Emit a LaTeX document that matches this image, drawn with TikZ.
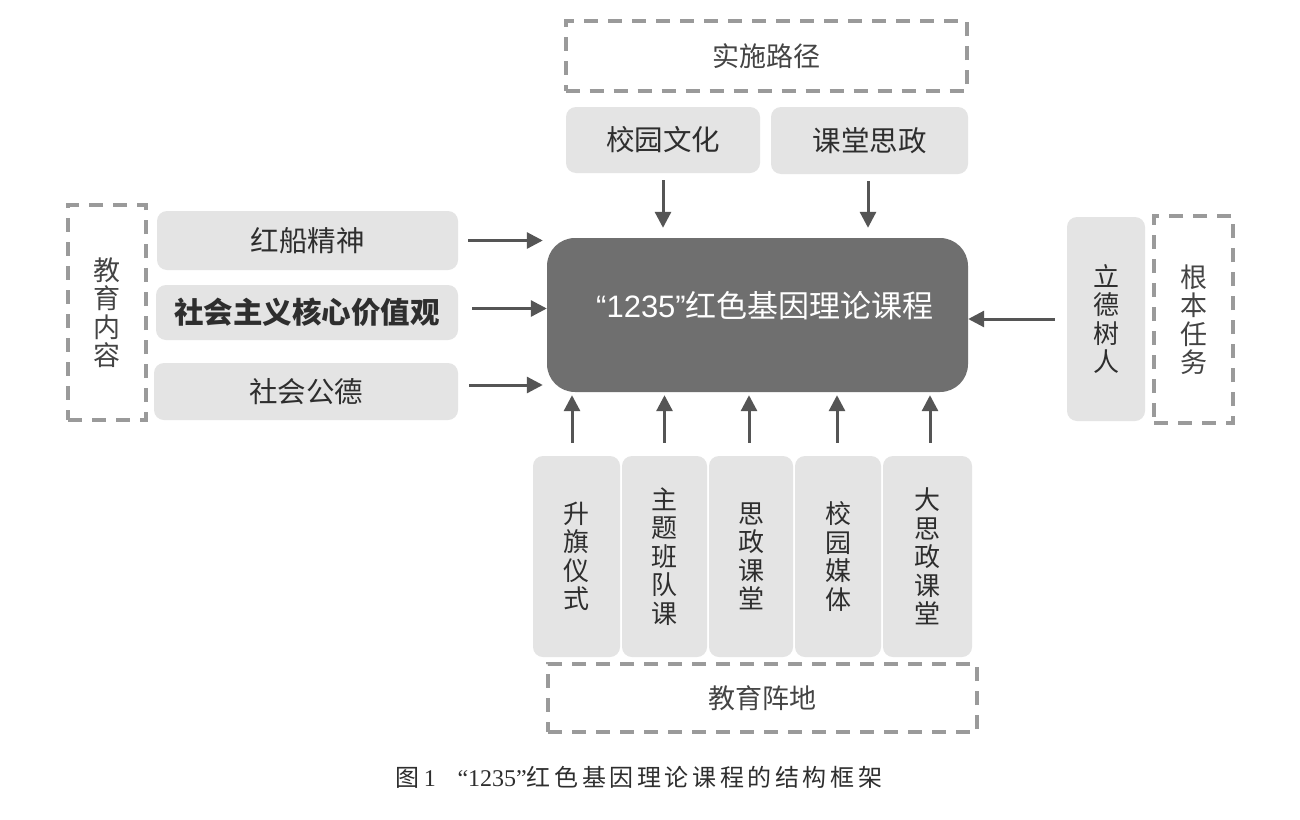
\documentclass[tikz,border=0pt]{standalone}
\usepackage{fontspec}
\setmainfont{Noto Sans CJK SC}
\newfontfamily\lsans{Liberation Sans}
\newfontfamily\lserif{Liberation Serif}
\usetikzlibrary{arrows.meta}
\definecolor{boxgray}{HTML}{E4E4E4}
\definecolor{coregray}{HTML}{6F6F6F}
\definecolor{dashgray}{HTML}{9A9A9A}
\definecolor{arrgray}{HTML}{555555}
\definecolor{txt}{HTML}{2E2E2E}
\definecolor{dtxt}{HTML}{444444}
\tikzset{
  lbox/.style={fill=boxgray, rounded corners=10pt, text=txt, inner sep=0pt,
    font=\fontsize{28.5}{29}\selectfont, align=center},
  vbox/.style={lbox, font=\fontsize{26}{28.5}\selectfont},
  dbox/.style={draw=dashgray, line width=4pt, dash pattern=on 14pt off 10pt,
    inner sep=0pt, text=dtxt, font=\fontsize{27}{28.5}\selectfont, align=center},
  corebox/.style={fill=coregray, rounded corners=28pt, inner sep=0pt},
  arr/.style={draw=arrgray, line width=3pt, -{Triangle[length=16pt,width=16pt]}},
}
\begin{document}
\begin{tikzpicture}[x=1pt,y=-1pt]
\useasboundingbox (0,0) rectangle (1300,819);
\fill[white] (0,0) rectangle (1300,819);

% top
\node[dbox, minimum width=401pt, minimum height=70pt] (path) at (766,56) {实施路径};
\node[lbox, minimum width=194pt, minimum height=66pt] (campus) at (663,140) {校园文化};
\node[lbox, minimum width=197pt, minimum height=67pt] (classr) at (869.5,140.5) {课堂思政};

% core
\node[corebox, minimum width=421pt, minimum height=154pt] (core) at (757.5,315) {};
\node[text=white, font=\fontsize{31}{32}\selectfont, inner sep=0pt] (coretext) at (765,306) {{\lsans “1235”}红色基因理论课程};

% left
\node[dbox, minimum width=78pt, minimum height=215pt] (content) at (107,312.5) {教\\育\\内\\容};
\node[lbox, minimum width=301pt, minimum height=59pt] (hong) at (307.5,240.5) {红船精神};
\node[lbox, minimum width=302pt, minimum height=55pt, font=\fontsize{29.5}{30}\selectfont\bfseries] (shzy) at (307,312.5) {社会主义核心价值观};
\node[lbox, minimum width=304pt, minimum height=57pt] (gongde) at (306,391.5) {社会公德};

% right
\node[vbox, minimum width=78pt, minimum height=204pt] (lide) at (1106,319) {立\\德\\树\\人};
\node[dbox, minimum width=79pt, minimum height=207pt] (task) at (1193.5,319.5) {根\\本\\任\\务};

% bottom
\node[vbox, minimum width=87pt, minimum height=201pt] (b1) at (576.5,556.5) {升\\旗\\仪\\式};
\node[vbox, minimum width=85pt, minimum height=201pt] (b2) at (664.5,556.5) {主\\题\\班\\队\\课};
\node[vbox, minimum width=84pt, minimum height=201pt] (b3) at (751,556.5) {思\\政\\课\\堂};
\node[vbox, minimum width=86pt, minimum height=201pt] (b4) at (838,556.5) {校\\园\\媒\\体};
\node[vbox, minimum width=89pt, minimum height=201pt] (b5) at (927.5,556.5) {大\\思\\政\\课\\堂};
\node[dbox, minimum width=429pt, minimum height=68pt] (base) at (762.5,698) {教育阵地};

% caption
\node[text=txt, font=\fontsize{24}{26}\selectfont, inner sep=0pt] (caption) at (639,777)
  {图{\lserif\,1}\hspace{0.9em}{\lserif “1235”}\addfontfeature{LetterSpace=15}红色基因理论课程的结构框架};

% arrows top
\draw[arr, shorten <=7pt, shorten >=10pt] (campus.south) -- (campus.south |- core.north);
\draw[arr, shorten <=7pt, shorten >=10pt] ([xshift=-1.5pt]classr.south) -- ([xshift=-1.5pt]classr.south |- core.north);

% arrows left
\draw[arr, shorten <=10pt, shorten >=4pt] (hong.east) -- (hong.east -| core.west);
\draw[arr, shorten <=14pt, shorten >=0pt] ([yshift=4pt]shzy.east) -- ([yshift=4pt]shzy.east -| core.west);
\draw[arr, shorten <=11pt, shorten >=4pt] ([yshift=6.5pt]gongde.east) -- ([yshift=6.5pt]gongde.east -| core.west);

% arrow right
\draw[arr, shorten <=12pt, shorten >=0pt] (lide.west) -- (lide.west -| core.east);

% arrows bottom
\draw[arr, shorten <=13pt, shorten >=3pt] ([xshift=-4.5pt]b1.north) -- ([xshift=-4.5pt]b1.north |- core.south);
\draw[arr, shorten <=13pt, shorten >=3pt] (b2.north) -- (b2.north |- core.south);
\draw[arr, shorten <=13pt, shorten >=3pt] ([xshift=-2pt]b3.north) -- ([xshift=-2pt]b3.north |- core.south);
\draw[arr, shorten <=13pt, shorten >=3pt] ([xshift=-1pt]b4.north) -- ([xshift=-1pt]b4.north |- core.south);
\draw[arr, shorten <=13pt, shorten >=3pt] ([xshift=2.5pt]b5.north) -- ([xshift=2.5pt]b5.north |- core.south);
\end{tikzpicture}
\end{document}
